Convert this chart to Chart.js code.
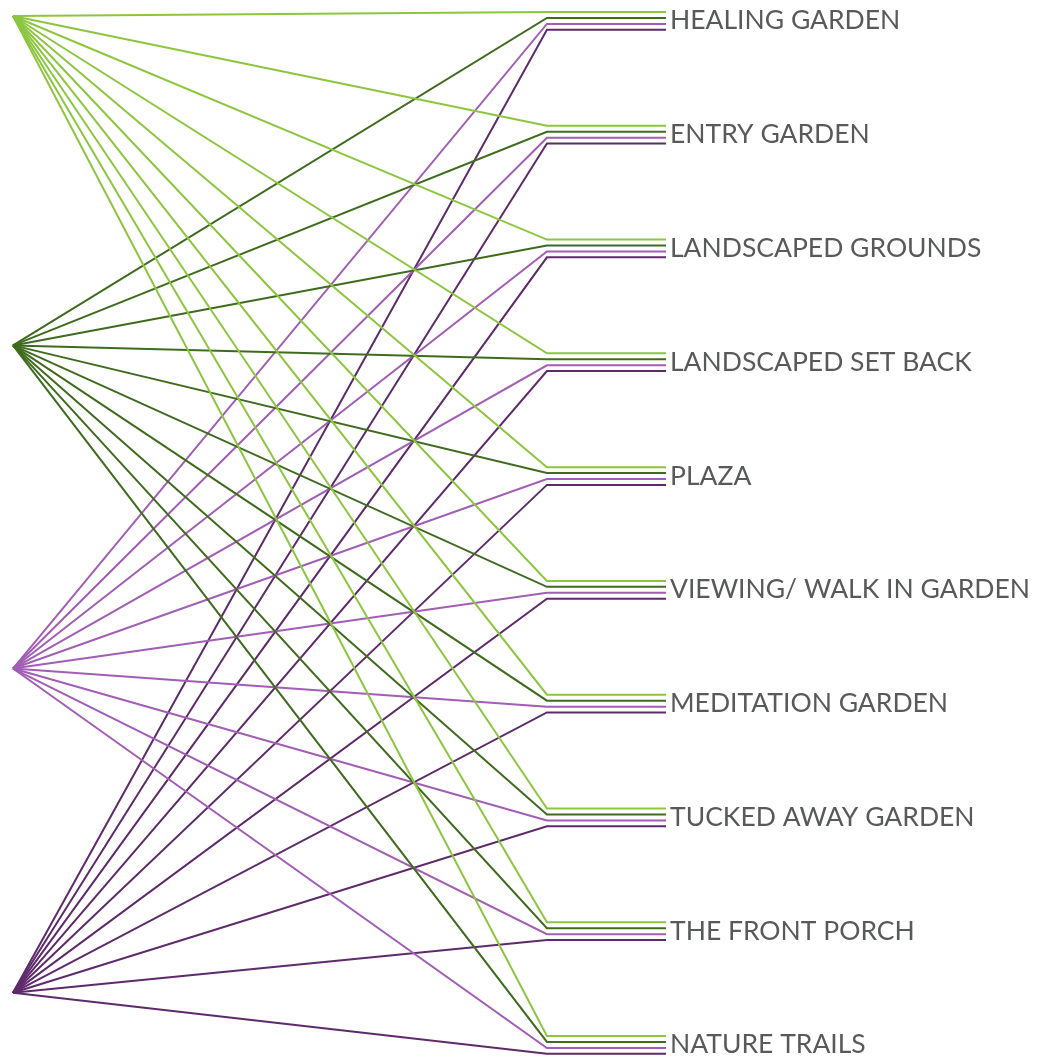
<!DOCTYPE html>
<html>
<head>
<meta charset="utf-8">
<script src="https://cdn.jsdelivr.net/npm/chart.js@4/dist/chart.umd.min.js"></script>
<style>
    html, body { margin: 0; padding: 0; background: #ffffff; }
    #wrap { position: relative; width: 1038px; height: 1057px; }
</style>
</head>
<body>
<div id="wrap"><canvas id="chart"></canvas></div>
<script>
    // targets on the right, top to bottom
    const targets = [
        'HEALING GARDEN', 'ENTRY GARDEN', 'LANDSCAPED GROUNDS', 'LANDSCAPED SET BACK', 'PLAZA',
        'VIEWING/ WALK IN GARDEN', 'MEDITATION GARDEN', 'TUCKED AWAY GARDEN', 'THE FRONT PORCH', 'NATURE TRAILS'
    ];
    // the four sources on the left (row units, same scale as targets)
    const sources = ['Source 1', 'Source 2', 'Source 3', 'Source 4'];
    const sourceRows = [0.035, 2.93, 5.77, 8.62];
    // lane offset of each source inside a target group
    const laneOffsets = [0, 0.052, 0.105, 0.156];
    const colors = ['#8cc63f', '#3f6b1e', '#a25db5', '#5e2a6b'];

    const SRC_X = 0;
    const BEND_X = 100;
    const END_X = 122.3;

    function getDatasets() {
        let datasets = [];
        sources.forEach((name, s) => {
            targets.forEach((t, i) => {
                let y = i + laneOffsets[s];
                datasets.push({
                    label: name + ' - ' + t,
                    data: [
                        { x: SRC_X, y: sourceRows[s] },
                        { x: BEND_X, y: y },
                        { x: END_X, y: y }
                    ],
                    borderColor: colors[s],
                    borderWidth: 2,
                    borderJoinStyle: 'miter',
                    pointRadius: 0,
                    tension: 0,
                    fill: false
                });
            });
        });
        return datasets;
    }

    const config = {
        type: 'line',
        data: { datasets: getDatasets() },
        options: {
            responsive: true,
            maintainAspectRatio: false,
            animation: false,
            layout: { padding: 0 },
            plugins: { legend: { display: false }, tooltip: { enabled: false } },
            scales: {
                x: {
                    type: 'linear',
                    display: false,
                    min: -2.43,
                    max: END_X
                },
                y: {
                    type: 'linear',
                    position: 'right',
                    reverse: true,
                    min: -0.1055,
                    max: 9.184,
                    grid: { display: false, drawTicks: false },
                    border: { display: false },
                    afterFit: function (scale) {
                        scale.width = 372;
                        scale.paddingTop = 0;
                        scale.paddingBottom = 0;
                    },
                    afterBuildTicks: function (scale) {
                        scale.ticks = targets.map((t, i) => ({ value: i + 0.078 }));
                    },
                    ticks: {
                        padding: 4,
                        color: '#58595b',
                        font: { family: 'Lato', size: 26.5 },
                        callback: function (value, index) { return targets[index]; }
                    }
                }
            }
        }
    };

    new Chart('chart', config);
</script>
</body>
</html>
